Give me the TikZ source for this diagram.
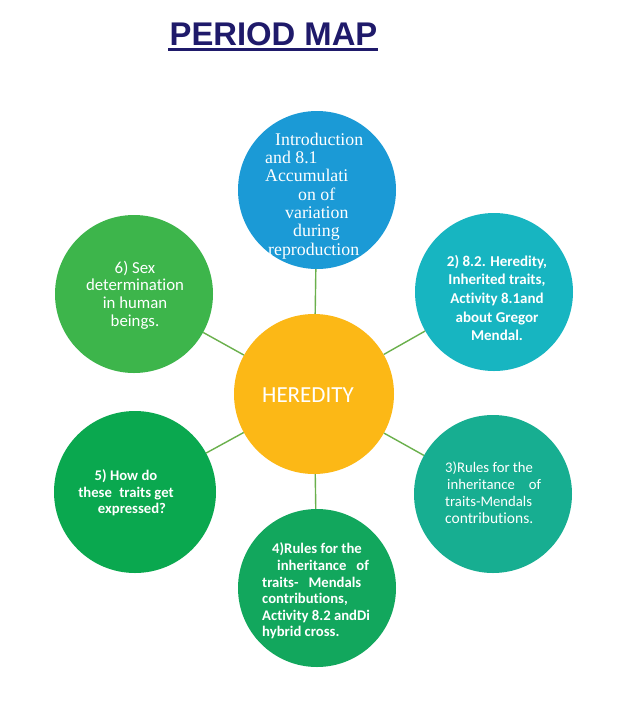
\documentclass[tikz,border=0pt]{standalone}
\usepackage{fontspec}
\setmainfont{Carlito}[Ligatures=NoCommon]
\newfontfamily\titlefont{Liberation Sans}
\newfontfamily\serifface{Liberation Serif}
\definecolor{titlecol}{HTML}{1F1A6A}
\definecolor{linkcol}{HTML}{6AB04C}
\definecolor{ccenter}{HTML}{FCB816}
\definecolor{cone}{HTML}{1B9AD6}
\definecolor{ctwo}{HTML}{17B5C1}
\definecolor{cthree}{HTML}{17AE91}
\definecolor{cfour}{HTML}{12A75D}
\definecolor{cfive}{HTML}{0AA84F}
\definecolor{csix}{HTML}{3DB54B}
\tikzset{
  topic/.style={circle, inner sep=0pt, minimum size=#1, draw=none},
  link/.style={draw=linkcol, line width=1.4pt},
  label/.style={text=white, inner sep=0pt, font=\fontsize{15}{18.7}\selectfont\bfseries},
}
\begin{document}
\begin{tikzpicture}[x=1pt,y=-1pt]
\useasboundingbox[fill=white] (0,0) rectangle (627,705);
% title
\node[inner sep=0pt, anchor=base, text=titlecol, font=\titlefont\bfseries\fontsize{32.8}{36}\selectfont] (title) at (273.5,45.5) {PERIOD MAP};
\draw[titlecol, line width=3.2pt] (title.base west) ++(-1,4) coordinate (ulA) -- (title.base east |- ulA);
% circles
\node[topic=160pt, fill=ccenter] (c0) at (314,394) {};
\node[topic=158pt, fill=cone] (c1) at (317,190) {};
\node[topic=158pt, fill=ctwo] (c2) at (494,292) {};
\node[topic=158pt, fill=cthree] (c3) at (493,494) {};
\node[topic=158pt, fill=cfour] (c4) at (317,588) {};
\node[topic=162pt, fill=cfive] (c5) at (135,492) {};
\node[topic=158pt, fill=csix] (c6) at (134,294) {};
% connectors
\foreach \k in {1,...,6} \draw[link] (c0) -- (c\k);
% texts
\node[text=white, inner sep=0pt, font=\fontsize{23}{26}\selectfont] (t0) at (308,395) {HEREDITY};
\node[text=white, inner sep=0pt, anchor=west, align=left, font=\serifface\fontsize{17.8}{18.3}\selectfont] (t1) at (265,196)
  {\hspace*{10pt}Introduction\\and 8.1\\Accumulati\\\hspace*{33pt}on of\\\hspace*{20pt}variation\\\hspace*{28pt}during\\\hspace*{3pt}reproduction};
\node[label, align=center] (t2) at (497,298)
  {2) 8.2. Heredity,\\Inherited traits,\\Activity 8.1and\\about Gregor\\Mendal.};
\node[label, anchor=west, align=left, font=\fontsize{14.7}{17}\selectfont\mdseries] (t3) at (445,493)
  {3)Rules for the\\\hspace*{2pt}inheritance\hspace*{14pt}of\\traits-Mendals\\{\fontsize{15.5}{17}\selectfont contributions.}};
\node[label, anchor=west, align=left, font=\fontsize{14.7}{16.6}\selectfont\bfseries] (t4) at (262,591)
  {\hspace*{10pt}4)Rules for the\\\hspace*{15pt}inheritance\hspace*{10pt}of\\traits-\hspace*{10pt}Mendals\\contributions,\\Activity 8.2 andDi\\hybrid cross.};
\node[label, align=center, font=\fontsize{14.7}{16.5}\selectfont\bfseries] (t5) at (126,493)
  {5) How do\\these\hspace*{4pt} traits get\\\hspace*{12pt}expressed?};
\node[label, align=center, font=\fontsize{16.8}{17.6}\selectfont\mdseries] (t6) at (135,295)
  {6) Sex\\determination\\in human\\beings.};
\end{tikzpicture}
\end{document}
